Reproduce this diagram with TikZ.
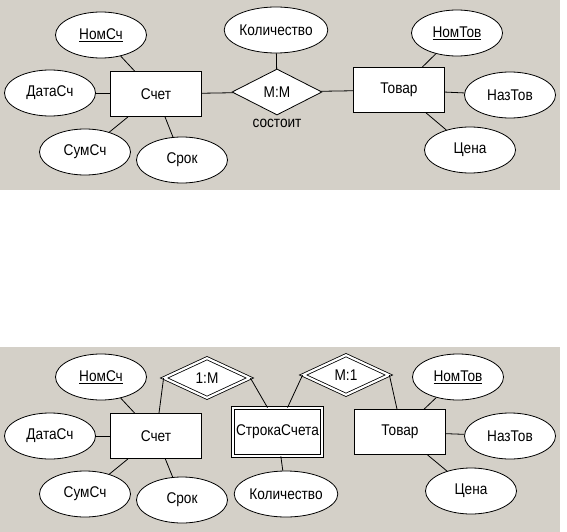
\documentclass[tikz,border=0pt]{standalone}
\usepackage{fontspec}
\setmainfont{Liberation Sans}[FakeStretch=0.88]
\definecolor{panel}{HTML}{D4D0C8}
\usetikzlibrary{shapes.geometric}

\begin{document}
\begin{tikzpicture}[
  x=1pt, y=-1pt,
  font=\fontsize{15.5}{17}\selectfont,
  ent/.style={draw, fill=white, line width=0.8pt, minimum width=91pt, minimum height=45pt, inner sep=0pt},
  weakent/.style={ent, double, double distance=2.2pt, minimum width=89pt, minimum height=48pt},
  attr/.style={ellipse, draw, fill=white, line width=0.8pt, minimum width=91pt, minimum height=46pt, inner sep=0pt},
  rel/.style={diamond, draw, fill=white, line width=0.8pt, minimum width=90pt, minimum height=46pt, inner sep=0pt},
  weakrel/.style={rel, double, double distance=2.2pt, minimum width=86pt, minimum height=40pt},
  link/.style={line width=0.8pt},
]
\useasboundingbox (0,0) rectangle (567,532);

% Panels
\fill[panel] (0,0) rectangle (560,190);
\fill[panel] (0,347) rectangle (560,532);

% M:M model
\node[ent] (schet) at (156,94) {Счет};
\node[ent] (tovar) at (399,90) {Товар};
\node[rel] (sost) at (277,92) {M:M};
\node[below=0pt] (sostlbl) at (sost.south) {состоит};

\node[attr] (nomsch) at (101,35) {\underline{НомСч}};
\node[attr] (datasch) at (50,93) {ДатаСч};
\node[attr] (sumsch) at (85,152) {СумСч};
\node[attr] (srok) at (182,160) {Срок};
\node[attr] (kol) at (276,30) {Количество};
\node[attr] (nomtov) at (457,33) {\underline{НомТов}};
\node[attr] (naztov) at (510,95) {НазТов};
\node[attr] (cena) at (470,150) {Цена};

\draw[link] (nomsch) -- (schet);
\draw[link] (datasch) -- (schet);
\draw[link] (sumsch) -- (schet);
\draw[link] (srok) -- (schet);
\draw[link] (schet) -- (sost);
\draw[link] (sost) -- (tovar);
\draw[link] (kol) -- (sost);
\draw[link] (nomtov) -- (tovar);
\draw[link] (naztov) -- (tovar);
\draw[link] (cena) -- (tovar);

% 1:M / M:1 model
\node[ent] (schet2) at (156,436) {Счет};
\node[weakent] (stroka) at (277.5,432) {СтрокаСчета};
\node[ent] (tovar2) at (400,432) {Товар};
\node[weakrel] (rel1m) at (207,378) {1:M};
\node[weakrel] (relm1) at (346,375) {M:1};

\node[attr] (nomsch2) at (101,377) {\underline{НомСч}};
\node[attr] (datasch2) at (50,436) {ДатаСч};
\node[attr] (sumsch2) at (85,494) {СумСч};
\node[attr] (srok2) at (182,500) {Срок};
\node[attr] (kol2) at (286,494) {Количество};
\node[attr] (nomtov2) at (458,377) {\underline{НомТов}};
\node[attr] (naztov2) at (510,436) {НазТов};
\node[attr] (cena2) at (471,491) {Цена};

\draw[link] (nomsch2) -- (schet2);
\draw[link] (datasch2) -- (schet2);
\draw[link] (sumsch2) -- (schet2);
\draw[link] (srok2) -- (schet2);
\draw[link] (rel1m.west) -- ([xshift=3pt]schet2.north);
\draw[link] (rel1m.east) -- ([xshift=-10pt]stroka.north);
\draw[link] (relm1.west) -- ([xshift=10pt]stroka.north);
\draw[link] (relm1.east) -- ([xshift=-3pt]tovar2.north);
\draw[link] (kol2) -- (stroka);
\draw[link] (nomtov2) -- (tovar2);
\draw[link] (naztov2) -- (tovar2);
\draw[link] (cena2) -- (tovar2);
\end{tikzpicture}
\end{document}
